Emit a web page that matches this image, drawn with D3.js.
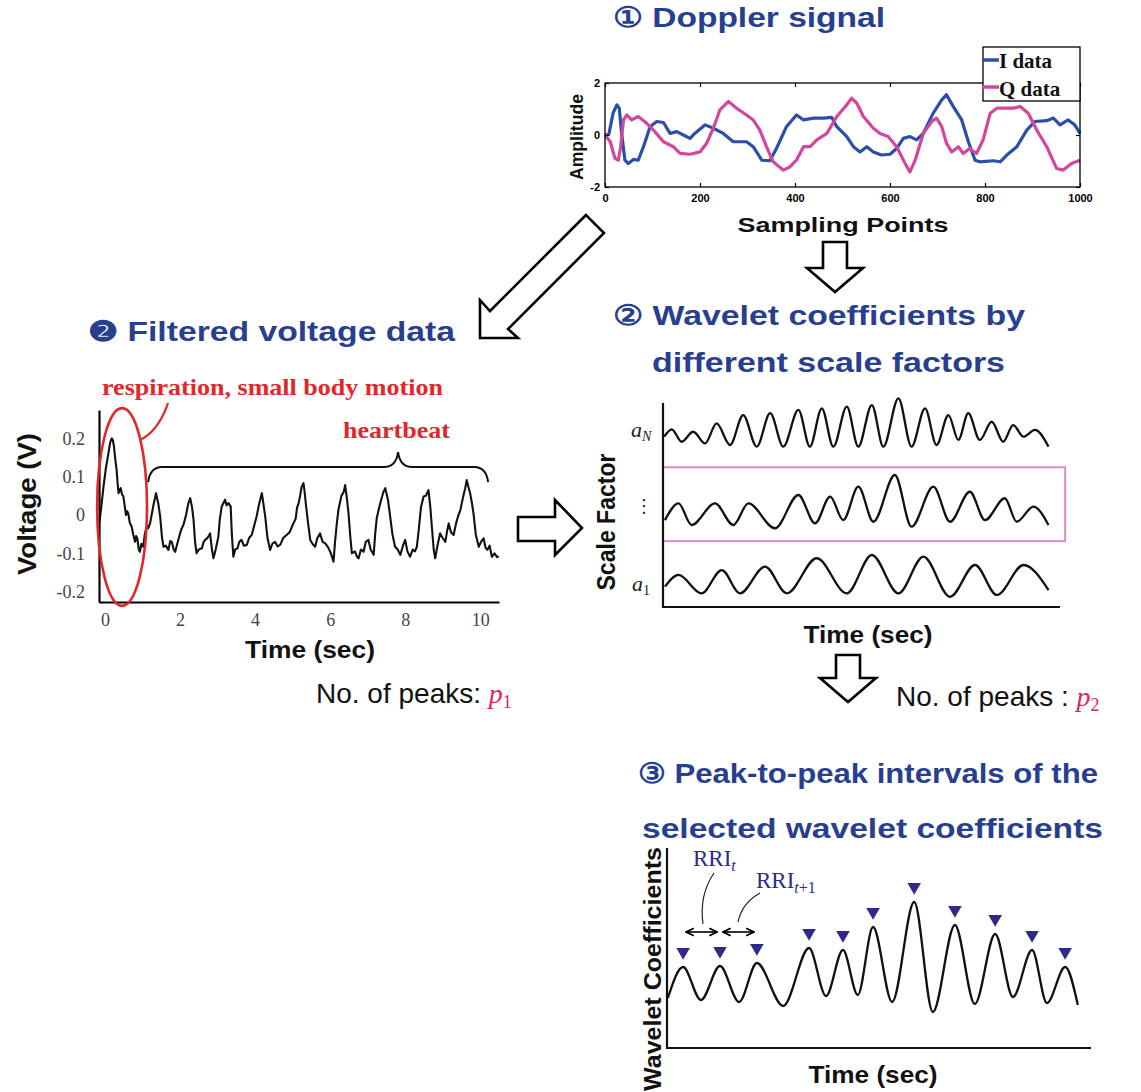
<!DOCTYPE html>
<html>
<head>
<meta charset="utf-8">
<script src="https://d3js.org/d3.v7.min.js"></script>
<style>
body{margin:0;background:#fff;}
</style>
</head>
<body>
<svg id="fig" width="1141" height="1092"></svg>
<script>
// (1) Doppler signal, [sampling point, amplitude]
var iData = [[0,0],[8,0.02],[17,0.84],[25,1.16],[30,1.03],[35,0.06],[42,-0.97],[49,-1.1],[60,-0.94],[70,-0.97],[81,-0.45],[95,0.32],[109,0.52],[123,0.48],[137,0.06],[151,0.13],[165,0],[179,-0.13],[189,0.06],[211,0.39],[228,0.26],[249,0.06],[270,-0.26],[298,-0.26],[312,-0.45],[330,-0.97],[347,-0.99],[361,-0.52],[382,0.32],[403,0.77],[418,0.58],[439,0.65],[460,0.65],[477,0.68],[488,0.32],[509,-0.06],[523,-0.45],[537,-0.65],[551,-0.45],[565,-0.65],[582,-0.77],[600,-0.74],[614,-0.52],[628,-0.13],[642,-0.06],[656,-0.19],[670,0.06],[691,0.84],[709,1.35],[719,1.55],[733,1.1],[751,0.58],[765,-0.26],[779,-0.97],[789,-1.03],[818,-0.99],[832,-1.03],[846,-0.77],[867,-0.45],[888,0.19],[905,0.52],[930,0.55],[944,0.65],[958,0.39],[975,0.58],[989,0.39],[1000,0.06]];
var qData = [[0,0],[11,-0.26],[21,-0.9],[28,-0.97],[33,-0.45],[39,0.58],[46,0.77],[56,0.58],[70,0.71],[88,0.45],[105,0.13],[123,-0.26],[144,-0.45],[158,-0.71],[179,-0.74],[200,-0.65],[214,-0.32],[228,0.26],[242,0.97],[260,1.29],[277,1.03],[298,0.77],[312,0.58],[326,0.19],[340,-0.45],[354,-1.03],[375,-1.35],[389,-1.23],[403,-0.97],[418,-0.45],[432,-0.45],[446,-0.19],[467,0.06],[488,0.71],[509,1.16],[519,1.42],[530,1.23],[544,0.71],[565,0.26],[579,0.06],[596,-0.06],[614,-0.45],[632,-1.1],[642,-1.42],[653,-0.97],[670,0.06],[688,0.52],[698,0.65],[709,0.32],[719,-0.32],[730,-0.65],[744,-0.45],[754,-0.71],[768,-0.52],[782,-0.71],[796,-0.19],[811,0.84],[825,1.03],[860,1.03],[874,1.1],[891,0.84],[909,0.19],[930,-0.45],[951,-1.29],[965,-1.35],[982,-1.1],[1000,-0.97]];
var dopXTicks = [0,200,400,600,800,1000];
var dopYTicks = [-2,0,2];
var legendNames = ["I data","Q data"];
var legendColors = ["#2c4ea6","#d2479c"];

// (2) filtered voltage, [time s, voltage V]
var voltData = [[-0.15,-0.02],[-0.1,0.02],[-0.04,0.074],[0.02,0.12],[0.09,0.161],[0.14,0.19],[0.18,0.2],[0.21,0.195],[0.24,0.178],[0.28,0.14],[0.31,0.117],[0.33,0.09],[0.36,0.057],[0.39,0.066],[0.42,0.07],[0.45,0.055],[0.49,0.048],[0.53,0.02],[0.56,0],[0.59,0.01],[0.62,0.004],[0.66,-0.02],[0.71,-0.03],[0.75,-0.05],[0.8,-0.07],[0.83,-0.055],[0.86,-0.061],[0.9,-0.09],[0.93,-0.096],[0.97,-0.075],[1.02,-0.083],[1.06,-0.05],[1.11,-0.03],[1.15,-0.035],[1.2,-0.022],[1.28,0.02],[1.36,0.057],[1.42,0.03],[1.47,-0.004],[1.52,-0.06],[1.56,-0.083],[1.62,-0.08],[1.69,-0.091],[1.74,-0.068],[1.78,-0.07],[1.83,-0.09],[1.87,-0.096],[1.94,-0.07],[2.0,-0.048],[2.04,-0.036],[2.09,-0.026],[2.16,0.0],[2.22,0.03],[2.27,0.044],[2.32,0.02],[2.36,-0.013],[2.4,-0.07],[2.44,-0.1],[2.5,-0.09],[2.58,-0.087],[2.63,-0.07],[2.67,-0.065],[2.73,-0.06],[2.8,-0.048],[2.85,-0.09],[2.89,-0.113],[2.95,-0.09],[3.02,-0.057],[3.06,-0.01],[3.11,0.022],[3.15,0.03],[3.2,0.04],[3.24,0.025],[3.29,0.031],[3.35,0.022],[3.38,-0.05],[3.42,-0.109],[3.47,-0.09],[3.53,-0.087],[3.58,-0.07],[3.64,-0.065],[3.7,-0.08],[3.78,-0.078],[3.84,-0.06],[3.91,-0.052],[3.97,-0.03],[4.04,-0.004],[4.11,0.03],[4.18,0.057],[4.22,0.03],[4.27,-0.004],[4.33,-0.06],[4.4,-0.091],[4.46,-0.075],[4.53,-0.07],[4.6,-0.082],[4.67,-0.078],[4.75,-0.06],[4.84,-0.052],[4.92,-0.045],[5.02,-0.022],[5.08,-0.01],[5.12,0.02],[5.16,0.031],[5.2,0.05],[5.24,0.074],[5.29,0.083],[5.32,0.06],[5.36,0.022],[5.41,-0.02],[5.47,-0.065],[5.53,-0.075],[5.6,-0.083],[5.66,-0.06],[5.73,-0.048],[5.8,-0.07],[5.87,-0.074],[5.95,-0.085],[6.02,-0.1],[6.09,-0.122],[6.13,-0.07],[6.18,-0.02],[6.22,0.013],[6.3,0.05],[6.36,0.06],[6.4,0.078],[6.45,0.04],[6.49,0.004],[6.54,-0.06],[6.58,-0.1],[6.66,-0.095],[6.72,-0.11],[6.76,-0.113],[6.82,-0.09],[6.89,-0.096],[6.95,-0.07],[7.02,-0.065],[7.08,-0.09],[7.16,-0.104],[7.2,-0.05],[7.24,-0.01],[7.29,0.013],[7.36,0.04],[7.42,0.06],[7.47,0.07],[7.54,0.04],[7.6,-0.004],[7.66,-0.05],[7.73,-0.083],[7.8,-0.09],[7.87,-0.104],[7.94,-0.08],[8.0,-0.065],[8.06,-0.095],[8.13,-0.109],[8.2,-0.09],[8.26,-0.095],[8.31,-0.083],[8.36,-0.04],[8.42,0.02],[8.49,0.048],[8.55,0.05],[8.62,0.065],[8.67,0.02],[8.71,-0.03],[8.76,-0.09],[8.8,-0.113],[8.86,-0.08],[8.93,-0.048],[9.0,-0.06],[9.07,-0.07],[9.12,-0.04],[9.16,-0.022],[9.22,-0.045],[9.29,-0.052],[9.36,-0.02],[9.42,0.0],[9.47,0.013],[9.55,0.05],[9.6,0.07],[9.64,0.091],[9.68,0.075],[9.73,0.057],[9.78,0.03],[9.82,0.004],[9.88,-0.05],[9.96,-0.083],[10.02,-0.07],[10.09,-0.061],[10.14,-0.085],[10.19,-0.091],[10.25,-0.08],[10.31,-0.109],[10.38,-0.1],[10.45,-0.11],[10.49,-0.107]];
var voltXTicks = [0,2,4,6,8,10];
var voltYTicks = [0.2,0.1,0,-0.1,-0.2];

// (2) wavelet coefficients per scale factor (extrema), [time %, coefficient]
var rowAN = [[0.3,8.35],[2.2,8.71],[4.7,8.1],[7.6,8.59],[10.6,8.02],[13.5,9.0],[16.9,7.94],[20.2,9.41],[23.6,7.86],[27.0,9.5],[30.3,7.86],[34.1,9.66],[37.0,7.86],[40.0,9.74],[42.9,7.86],[46.3,9.82],[49.2,7.86],[52.6,9.9],[55.5,7.86],[59.3,10.23],[62.6,7.86],[66.0,9.74],[68.9,7.94],[71.9,9.41],[74.4,8.19],[76.9,9.5],[79.8,8.19],[82.8,9.08],[85.7,8.1],[88.2,8.92],[90.8,8.35],[93.7,8.68],[97.1,7.86]];
var rowSel = [[0.5,4.26],[3.9,5.08],[7.2,4.02],[13.1,5.08],[17.7,4.02],[21.5,5.08],[28.2,3.86],[34.1,5.49],[38.3,4.1],[42.1,5.41],[45.4,4.26],[49.2,5.9],[53.0,4.18],[58.4,6.47],[62.6,3.94],[68.1,5.9],[72.3,4.18],[77.3,5.65],[81.1,4.26],[86.1,5.33],[89.1,4.18],[93.3,4.92],[97.1,4.02]];
var rowA1 = [[0.5,1.0],[3.9,1.57],[9.7,0.67],[14.8,1.81],[19.4,0.67],[25.7,1.98],[31.2,0.67],[38.7,2.39],[46.3,0.67],[52.6,2.55],[59.3,0.67],[65.6,2.47],[72.3,0.5],[78.6,2.06],[84.1,0.59],[90.8,2.06],[97.1,0.83]];

// (3) selected wavelet coefficients, extrema [time %, coefficient]; odd entries are the peaks
var selWave = [[0.2,2.5],[3.8,4.05],[8.0,2.4],[12.5,4.1],[17.0,2.3],[21.2,4.25],[27.4,2.1],[33.5,5.0],[37.5,2.6],[41.5,4.9],[45.0,2.65],[48.6,6.05],[53.1,2.3],[58.3,7.3],[62.7,1.8],[67.9,6.15],[72.6,2.2],[77.4,5.7],[81.6,2.55],[86.1,4.9],[89.6,2.25],[93.9,4.05],[96.9,2.15]];

var svg = d3.select("#fig");
var SANS = "Liberation Sans, Arial, sans-serif";
var SERIF = "Liberation Serif, Times New Roman, serif";
var BLUE = "#283f90", RED = "#e2272b", PINK = "#e38bc5", NAVY = "#2e2a8a", MAG = "#e0245e";

function addText(x, y, s, size, o) {
  o = o || {};
  var t = svg.append("text").attr("x", x).attr("y", y)
    .attr("font-family", o.family || SANS).attr("font-size", size)
    .attr("font-weight", o.weight || "normal").attr("fill", o.fill || "#111")
    .attr("text-anchor", o.anchor || "start").text(s);
  if (o.len) t.attr("textLength", o.len).attr("lengthAdjust", "spacingAndGlyphs");
  if (o.rot) t.attr("x", 0).attr("y", 0).attr("transform", "translate(" + x + "," + y + ") rotate(-90)");
  return t;
}
function hollow(pts) {
  svg.append("polygon").attr("points", pts.map(function(p){ return p.join(","); }).join(" "))
    .attr("fill", "#fff").attr("stroke", "#000").attr("stroke-width", 2.6).attr("stroke-linejoin", "miter");
}
function downArrow(cx, top, headY, tip, sw, hw) {
  hollow([[cx-sw/2,top],[cx+sw/2,top],[cx+sw/2,headY],[cx+hw/2,headY],[cx,tip],[cx-hw/2,headY],[cx-sw/2,headY]]);
}

// titles
addText(613, 27, "\u2460 Doppler signal", 28, {weight:"bold", fill:BLUE, len:272});
addText(88, 341, "\u2777 Filtered voltage data", 28, {weight:"bold", fill:BLUE, len:367});
addText(613, 325, "\u2461 Wavelet coefficients by", 28, {weight:"bold", fill:BLUE, len:412});
addText(652, 372, "different scale factors", 28, {weight:"bold", fill:BLUE, len:353});
addText(638, 783, "\u2462 Peak-to-peak intervals of the", 28, {weight:"bold", fill:BLUE, len:460});
addText(642, 838, "selected wavelet coefficients", 28, {weight:"bold", fill:BLUE, len:461});

// ---------- Doppler panel ----------
var xD = d3.scaleLinear().domain([0,1000]).range([605,1080]);
var yD = d3.scaleLinear().domain([-2,2]).range([187,83]);
var lineD = d3.line().x(function(d){ return xD(d[0]); }).y(function(d){ return yD(d[1]); });
[iData, qData].forEach(function(s, i){
  svg.append("path").datum(s).attr("d", lineD).attr("fill","none")
    .attr("stroke", legendColors[i]).attr("stroke-width", 3.2).attr("stroke-linejoin","round");
});
svg.append("rect").attr("x", xD(0)).attr("y", yD(2)).attr("width", xD(1000)-xD(0)).attr("height", yD(-2)-yD(2))
  .attr("fill","none").attr("stroke","#000").attr("stroke-width",1.3);
var axB = svg.append("g").attr("transform","translate(0,"+yD(-2)+")")
  .call(d3.axisBottom(xD).tickValues(dopXTicks).tickSizeInner(-4).tickSizeOuter(0).tickPadding(7).tickFormat(function(d){ return String(d); }));
var axT = svg.append("g").attr("transform","translate(0,"+yD(2)+")")
  .call(d3.axisTop(xD).tickValues(dopXTicks).tickSizeInner(-4).tickSizeOuter(0).tickFormat(""));
var axL = svg.append("g").attr("transform","translate("+xD(0)+",0)")
  .call(d3.axisLeft(yD).tickValues(dopYTicks).tickSizeInner(-4).tickSizeOuter(0).tickPadding(5).tickFormat(function(d){ return String(d); }));
var axR = svg.append("g").attr("transform","translate("+xD(1000)+",0)")
  .call(d3.axisRight(yD).tickValues(dopYTicks).tickSizeInner(-4).tickSizeOuter(0).tickFormat(""));
[axB, axT, axL, axR].forEach(function(g){
  g.select(".domain").remove();
  g.attr("font-family", SANS).attr("font-size", 11).attr("font-weight","bold");
  g.selectAll("line").attr("stroke-width",1.2);
});
// legend
svg.append("rect").attr("x",983).attr("y",47).attr("width",97).attr("height",54)
  .attr("fill","#fff").attr("stroke","#000").attr("stroke-width",1.3);
legendNames.forEach(function(n, i){
  svg.append("line").attr("x1",982).attr("x2",999).attr("y1",60+i*27).attr("y2",60+i*27)
    .attr("stroke",legendColors[i]).attr("stroke-width",3.5);
  addText(999, 68+i*28, n, 21, {family:SERIF, weight:"bold", fill:"#111"});
});
addText(583, 137, "Amplitude", 18, {weight:"bold", anchor:"middle", rot:true, len:86});
addText(843, 232, "Sampling Points", 21, {weight:"bold", anchor:"middle", len:211});

// arrows from Doppler panel
downArrow(835, 242, 268, 292, 24, 56);
hollow([[586,215],[490,311],[480,300],[480,338],[518,338],[508,329],[604,233]]);

// ---------- filtered voltage panel ----------
var xV = d3.scaleLinear().domain([-0.16,10.5]).range([99,499]);
var yV = d3.scaleLinear().domain([-0.227,0.274]).range([602,410]);
svg.append("path").datum(voltData)
  .attr("d", d3.line().x(function(d){ return xV(d[0]); }).y(function(d){ return yV(d[1]); }))
  .attr("fill","none").attr("stroke","#111").attr("stroke-width",2.1).attr("stroke-linejoin","round");
var vx = svg.append("g").attr("transform","translate(0,602)")
  .call(d3.axisBottom(xV).tickValues(voltXTicks).tickSize(0).tickPadding(11));
var vy = svg.append("g").attr("transform","translate(99,0)")
  .call(d3.axisLeft(yV).tickValues(voltYTicks).tickSize(0).tickPadding(14).tickFormat(function(d){ return String(d); }));
[vx, vy].forEach(function(g){
  g.attr("font-family", SERIF).attr("font-size", 18);
  g.selectAll("text").attr("fill","#444");
  g.select(".domain").attr("stroke-width",2.2);
});
addText(36, 504, "Voltage (V)", 26, {weight:"bold", anchor:"middle", rot:true, len:142});
addText(310, 658, "Time (sec)", 24, {weight:"bold", anchor:"middle", len:130});

// respiration ellipse and leader
var ellT = [-0.21, 1.12], ellV = [-0.237, 0.279];
svg.append("ellipse")
  .attr("cx", (xV(ellT[0])+xV(ellT[1]))/2).attr("cy", (yV(ellV[0])+yV(ellV[1]))/2)
  .attr("rx", (xV(ellT[1])-xV(ellT[0]))/2).attr("ry", (yV(ellV[0])-yV(ellV[1]))/2)
  .attr("fill","none").attr("stroke",RED).attr("stroke-width",2.6);
svg.append("path")
  .attr("d", "M"+xV(0.93)+","+yV(0.196)+" Q"+xV(1.41)+","+yV(0.217)+" "+xV(1.68)+","+yV(0.292))
  .attr("fill","none").attr("stroke",RED).attr("stroke-width",2.2);
addText(102, 395, "respiration, small body motion", 24, {family:SERIF, weight:"bold", fill:RED, len:341});
addText(343, 438, "heartbeat", 24, {family:SERIF, weight:"bold", fill:RED, len:107});

// heartbeat brace
var braceT = [1.15, 7.81, 10.21], braceV = [0.086, 0.125, 0.164];
(function(){
  var x0 = xV(braceT[0]), xm = xV(braceT[1]), x1 = xV(braceT[2]);
  var yE = yV(braceV[0]), yB = yV(braceV[1]), yT = yV(braceV[2]);
  var d = "M"+x0+","+yE+" Q"+(x0+2)+","+yB+" "+(x0+14)+","+yB+" L"+(xm-14)+","+yB+
    " Q"+(xm-2)+","+yB+" "+xm+","+yT+" Q"+(xm+2)+","+yB+" "+(xm+14)+","+yB+
    " L"+(x1-14)+","+yB+" Q"+(x1-2)+","+yB+" "+x1+","+yE;
  svg.append("path").attr("d", d).attr("fill","none").attr("stroke","#111").attr("stroke-width",2);
})();

// arrow to wavelet panel
hollow([[518,517],[555,517],[555,500],[582,528],[555,555],[555,541],[518,541]]);

// ---------- wavelet coefficient panel ----------
var xW = d3.scaleLinear().domain([0,100]).range([663,1060]);
var yW = d3.scaleLinear().domain([0,10]).range([607,403]);
var lineW = d3.line().curve(d3.curveMonotoneX).x(function(d){ return xW(d[0]); }).y(function(d){ return yW(d[1]); });
svg.append("rect").attr("x", xW(0)).attr("y", yW(6.85)).attr("width", xW(101.3)-xW(0)).attr("height", yW(3.23)-yW(6.85))
  .attr("fill","none").attr("stroke",PINK).attr("stroke-width",2);
[rowAN, rowSel, rowA1].forEach(function(r){
  svg.append("path").datum(r).attr("d", lineW).attr("fill","none").attr("stroke","#111").attr("stroke-width",2.3);
});
svg.append("path").attr("d","M"+xW(0)+","+yW(10)+" V"+yW(0)+" H"+xW(100))
  .attr("fill","none").attr("stroke","#111").attr("stroke-width",2.2);
var aN = svg.append("text").attr("x",631).attr("y",437).attr("font-family",SERIF).attr("font-size",22).attr("font-style","italic").attr("fill","#222");
aN.append("tspan").text("a");
aN.append("tspan").attr("font-size",14).attr("dy",4).text("N");
var a1 = svg.append("text").attr("x",632).attr("y",591).attr("font-family",SERIF).attr("font-size",22).attr("font-style","italic").attr("fill","#222");
a1.append("tspan").text("a");
a1.append("tspan").attr("font-size",14).attr("font-style","normal").attr("dy",4).text("1");
addText(644, 512, "\u22EE", 18, {anchor:"middle", fill:"#222", family:"DejaVu Sans"});
addText(615, 522, "Scale Factor", 25, {weight:"bold", anchor:"middle", rot:true, len:137});
addText(868, 643, "Time (sec)", 24, {weight:"bold", anchor:"middle", len:129});

// peaks count labels and arrow
downArrow(848, 655, 678, 702, 24, 56);
var np1 = svg.append("text").attr("x",316).attr("y",703).attr("font-family",SANS).attr("font-size",28).attr("fill","#111");
np1.append("tspan").text("No. of peaks: ");
np1.append("tspan").attr("font-family",SERIF).attr("font-style","italic").attr("fill",MAG).text("p");
np1.append("tspan").attr("font-family",SERIF).attr("font-size",18).attr("dy",5).attr("fill",MAG).text("1");
var np2 = svg.append("text").attr("x",896).attr("y",706).attr("font-family",SANS).attr("font-size",28).attr("fill","#111");
np2.append("tspan").text("No. of peaks : ");
np2.append("tspan").attr("font-family",SERIF).attr("font-style","italic").attr("fill",MAG).text("p");
np2.append("tspan").attr("font-family",SERIF).attr("font-size",18).attr("dy",5).attr("fill",MAG).text("2");

// ---------- peak-to-peak panel ----------
var xB = d3.scaleLinear().domain([0,100]).range([667,1091]);
var yB = d3.scaleLinear().domain([0,10]).range([1048,848]);
svg.append("path").datum(selWave)
  .attr("d", d3.line().curve(d3.curveMonotoneX).x(function(d){ return xB(d[0]); }).y(function(d){ return yB(d[1]); }))
  .attr("fill","none").attr("stroke","#111").attr("stroke-width",2.3);
svg.append("path").attr("d","M"+xB(0)+","+yB(10)+" V"+yB(0)+" H"+xB(100))
  .attr("fill","none").attr("stroke","#111").attr("stroke-width",2.2);
var peaks = selWave.filter(function(d, i){ return i % 2 === 1; });
svg.selectAll(".pk").data(peaks).enter().append("path").attr("class","pk")
  .attr("d", d3.symbol(d3.symbolTriangle, 80))
  .attr("transform", function(d){ return "translate("+xB(d[0])+","+(yB(d[1])-15)+") rotate(180)"; })
  .attr("fill", NAVY);

// RRI intervals
var defs = svg.append("defs");
defs.append("marker").attr("id","ah").attr("viewBox","0 0 10 10").attr("refX",9).attr("refY",5)
  .attr("markerWidth",6).attr("markerHeight",6).attr("orient","auto-start-reverse")
  .append("path").attr("d","M1,1 L9,5 L1,9").attr("fill","none").attr("stroke","#000").attr("stroke-width",1.8);
var rriV = 5.8;
[[0,1],[1,2]].forEach(function(p){
  svg.append("line").attr("x1", xB(peaks[p[0]][0])+3).attr("x2", xB(peaks[p[1]][0])-3)
    .attr("y1", yB(rriV)).attr("y2", yB(rriV)).attr("stroke","#000").attr("stroke-width",1.6)
    .attr("marker-start","url(#ah)").attr("marker-end","url(#ah)");
});
svg.append("path").attr("d","M714,873 Q699,895 703,924").attr("fill","none").attr("stroke","#222").attr("stroke-width",1.2);
svg.append("path").attr("d","M760,893 Q742,903 738,922").attr("fill","none").attr("stroke","#222").attr("stroke-width",1.2);
var r1 = svg.append("text").attr("x",693).attr("y",866).attr("font-family",SERIF).attr("font-size",23).attr("fill",NAVY);
r1.append("tspan").text("RRI");
r1.append("tspan").attr("font-style","italic").attr("font-size",16).attr("dy",5).text("t");
var r2 = svg.append("text").attr("x",756).attr("y",888).attr("font-family",SERIF).attr("font-size",23).attr("fill",NAVY);
r2.append("tspan").text("RRI");
r2.append("tspan").attr("font-style","italic").attr("font-size",16).attr("dy",5).text("t");
r2.append("tspan").attr("font-size",16).text("+1");
addText(661, 969, "Wavelet Coefficients", 24, {weight:"bold", anchor:"middle", rot:true, len:244});
addText(873, 1083, "Time (sec)", 24, {weight:"bold", anchor:"middle", len:129});
</script>
</body>
</html>
